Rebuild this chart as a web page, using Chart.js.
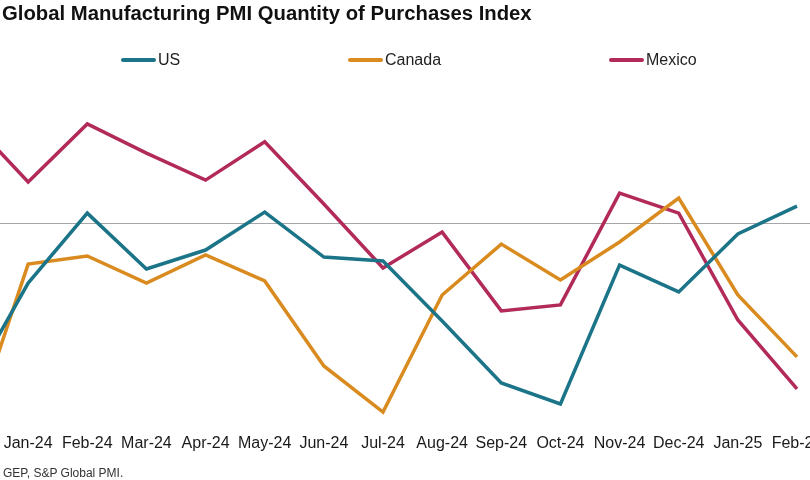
<!DOCTYPE html>
<html>
<head>
<meta charset="utf-8">
<script src="https://cdn.jsdelivr.net/npm/chart.js@4"></script>
<style>
  html, body { margin: 0; padding: 0; background: #fff; }
  body { width: 810px; height: 480px; overflow: hidden; position: relative; font-family: "Liberation Sans", Arial, sans-serif; }
  #wrap { position: absolute; left: -71px; top: 0; width: 908px; height: 480px; }
  #title { position: absolute; left: 2px; top: 3px; font-size: 20.3px; line-height: 20px; font-weight: bold; color: #111; white-space: nowrap; z-index: 2; }
  #legend { position: absolute; left: 0; top: 50px; height: 20px; width: 810px; z-index: 2; }
  .item { position: absolute; top: 0; height: 20px; display: flex; align-items: center; font-size: 16px; color: #222; white-space: nowrap; }
  .swatch { width: 35px; height: 4px; border-radius: 2px; margin-right: 2px; }
  #source { position: absolute; left: 3px; top: 466px; font-size: 12px; line-height: 14px; color: #333; white-space: nowrap; z-index: 2; }
</style>
</head>
<body>
<div id="title">Global Manufacturing PMI Quantity of Purchases Index</div>
<div id="legend"></div>
<div id="wrap"><canvas id="c"></canvas></div>
<div id="source">GEP, S&amp;P Global PMI.</div>
<script>
// Categories (Dec-23 lies just beyond the left edge of the crop)
const months = ["Dec-23","Jan-24","Feb-24","Mar-24","Apr-24","May-24","Jun-24","Jul-24","Aug-24","Sep-24","Oct-24","Nov-24","Dec-24","Jan-25","Feb-25"];
// Series values (index, 50 = no change)
const usValues     = [43.65, 47.69, 50.38, 48.23, 48.96, 50.42, 48.69, 48.54, 46.23, 43.85, 43.04, 48.38, 47.35, 49.58, 50.65];
const canadaValues = [41.62, 48.42, 48.73, 47.69, 48.77, 47.77, 44.50, 42.73, 47.23, 49.19, 47.81, 49.27, 50.96, 47.23, 44.85];
const mexicoValues = [54.00, 51.58, 53.81, 52.69, 51.65, 53.12, 50.73, 48.27, 49.65, 46.62, 46.85, 51.15, 50.38, 46.27, 43.62];
// Reference level drawn as the single horizontal rule
const referenceLevel = [50];
const seriesNames = ["US", "Canada", "Mexico"];
const seriesColors = ["#1b7487", "#d98b1f", "#b22a5a"];

const legendPositions = [121, 348, 609];
const legendEl = document.getElementById('legend');
seriesNames.forEach((name, i) => {
  const it = document.createElement('div');
  it.className = 'item';
  it.style.left = legendPositions[i] + 'px';
  const sw = document.createElement('span');
  sw.className = 'swatch';
  sw.style.background = seriesColors[i];
  const tx = document.createElement('span');
  tx.textContent = name;
  it.appendChild(sw); it.appendChild(tx);
  legendEl.appendChild(it);
});

const allValues = [usValues, canadaValues, mexicoValues];
new Chart(document.getElementById('c'), {
  type: 'line',
  data: {
    labels: months,
    datasets: seriesNames.map((n, i) => ({
      label: n,
      data: allValues[i],
      borderColor: seriesColors[i],
      backgroundColor: seriesColors[i],
      borderWidth: 3.5,
      pointRadius: 0,
      pointHoverRadius: 0,
      tension: 0,
      fill: false,
      borderJoinStyle: 'miter'
    }))
  },
  options: {
    responsive: true,
    maintainAspectRatio: false,
    animation: false,
    events: [],
    layout: { padding: { left: 40, right: 20, top: 67, bottom: 23.8 } },
    plugins: { legend: { display: false }, title: { display: false }, tooltip: { enabled: false } },
    scales: {
      x: {
        grid: { display: false, drawTicks: false, tickLength: 0 },
        border: { display: false },
        ticks: {
          autoSkip: false, maxRotation: 0, minRotation: 0, padding: 3,
          color: '#1a1a1a',
          font: { family: '"Liberation Sans", Arial, sans-serif', size: 16 }
        }
      },
      y: {
        position: 'right',
        min: 42, max: 56,
        border: { display: false },
        ticks: { display: false },
        grid: { color: '#a6a6a6', lineWidth: 1, drawTicks: true, tickLength: 20 },
        afterBuildTicks: (axis) => { axis.ticks = referenceLevel.map(v => ({ value: v })); }
      }
    }
  }
});
</script>
</body>
</html>
